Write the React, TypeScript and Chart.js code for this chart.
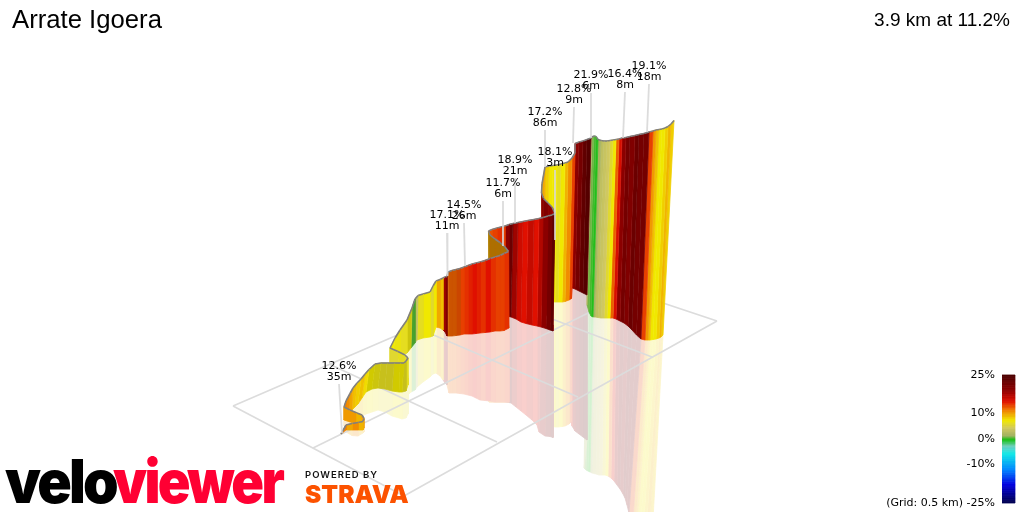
import React, { useEffect, useRef } from 'react';
import { Chart, registerables, ChartConfiguration } from 'chart.js';

Chart.register(...registerables);

// Ribbon columns in screen units, in route order.
// Lines within each array: start curl / first climb / long wall / inner curl / red wall / inner curl / yellow wall / dark wall / last wall
const ribbonTopX = [
  341, 346, 352, 358, 363, 364, 362, 357, 350, 344,
  346, 350, 353, 357, 361, 365, 369, 375, 381, 387, 394, 400, 404, 406, 408, 405, 398, 390,
  395, 400, 407, 412, 415, 418, 423, 430, 433, 436, 440, 443, 445, 447, 448, 452, 456, 460, 464, 468, 472, 476, 480, 485, 490, 495, 500, 504, 508.5,
  505, 500, 495, 490, 488.5,
  492, 497, 501, 505, 509, 513, 518, 523, 528, 534, 539, 543, 548, 552, 555,
  552, 548, 543.5, 541.5,
  542, 545, 549, 553, 557, 561, 565, 568, 572, 575,
  575, 579, 583, 587, 591,
  592, 594, 596, 598, 601, 604, 607, 610, 613, 616, 619, 622, 626, 630, 635, 639, 644, 649, 653, 656, 659, 662, 665, 668, 671, 674,
];
const ribbonTopY = [
  434, 425, 423.5, 422.5, 421.5, 418.5, 415, 413, 410, 407,
  401, 393.5, 388, 383, 379, 374, 369.5, 364, 363, 363, 363, 363, 363, 361, 358, 355, 351.5, 348,
  338, 330, 320, 308, 299, 295.5, 294, 292, 286, 281, 279.5, 278, 277, 276.5, 272, 270.5, 269.5, 268.5, 267, 265.5, 264, 263, 262, 260.5, 258.5, 257, 255.5, 253.5, 251.5,
  247, 242.5, 239, 235, 231,
  229.5, 228, 227, 226, 224.5, 223.5, 222.5, 221.5, 220.5, 219.5, 218.5, 217.5, 216, 215, 213.5,
  207, 203, 198.5, 193,
  184, 167, 166, 165.5, 165, 164, 163, 162, 158, 153,
  143.5, 142, 141, 139.5, 138,
  137, 136, 136.5, 139.5, 140.5, 141, 141, 140.5, 140, 139.5, 139, 138, 137.5, 136.5, 135.5, 134.5, 133.5, 132, 131, 130, 129.5, 129, 128, 126.5, 124, 120.5,
];
const ribbonBaseX = [
  341, 346, 352, 358, 363, 364, 363, 357, 350, 344,
  346, 349, 352, 355, 358, 362, 366, 372, 378, 385, 392, 399, 402, 406, 408, 408, 400, 390,
  392, 400, 407, 411, 415, 417, 423, 430, 433, 436, 440, 443, 445, 447, 449, 452, 456, 460, 464, 468, 472, 476, 480, 485, 490, 495, 500, 504, 509,
  508, 502, 496, 491, 489,
  492, 497, 501, 505, 509, 511, 516, 521, 526, 532, 537, 541, 546, 550, 553,
  553, 549, 545, 542,
  543, 544, 547, 551, 555, 558, 562, 565, 569, 571.5,
  572, 575, 579, 583, 587,
  587, 589, 591, 593, 595, 598, 601, 604, 607, 610, 613, 616, 620, 624, 628, 632, 636.5, 641, 645, 648, 650, 653, 656, 659, 661, 663,
];
const ribbonBaseY = [
  434, 430, 430, 430, 430, 428, 426, 424, 422, 420,
  415, 413, 410, 407, 404, 398, 392, 389, 388, 389, 391, 392, 392, 391, 385, 378, 372, 365,
  362, 358, 353, 348, 343, 340, 338, 337, 336, 327, 328, 330, 332, 336, 336, 336, 335.5, 335, 334, 334, 334, 333.5, 333, 332.5, 332, 331, 331, 330.5, 328,
  320, 318, 316, 314, 312,
  312, 314, 315, 316, 316.5, 317, 319, 322, 323.5, 325, 326, 327, 328.5, 330, 331,
  325, 320, 312, 305,
  300, 300, 301, 301.5, 302, 302, 302, 301.5, 300, 298.5,
  288, 289, 291, 293, 295,
  305, 312, 316, 317, 317, 317.5, 318, 318, 318, 318, 318, 319, 321, 323, 326, 330, 335, 339, 340, 340, 340, 339.5, 339, 338, 337, 335,
];
const mirrorEndX = [
  341, 346, 352, 358, 363, 364, 363, 357, 350, 344,
  346, 349, 352, 355, 358, 362, 366, 372, 378, 385, 392, 399, 402, 406, 408, 408, 400, 390,
  392, 400, 407, 411, 415, 417, 423, 430, 433, 436, 440, 443, 445, 447, 449, 452, 456, 460, 464, 468, 472, 476, 480, 485, 490, 495, 500, 504, 509,
  508, 502, 496, 491, 489,
  492, 497, 501, 505, 509, 511, 516, 521, 526, 532, 537, 539, 545, 550, 553,
  553, 549, 545, 542,
  543, 544, 547, 551, 555, 558, 562, 565, 569, 571,
  572, 575, 579, 583, 587,
  584, 586, 588, 590, 592, 596, 599, 602, 605, 608, 611, 614, 617, 620, 623, 625, 627, 629, 633, 636, 638, 641, 644, 647, 650, 653,
];
const mirrorEndY = [
  434, 432, 435.5, 436, 433, 432, 428, 425, 425, 426,
  424, 422, 420, 418, 416, 416, 414, 412, 410, 412, 416, 418, 419, 418, 414, 408, 405, 400,
  400, 398, 396, 392, 390, 387, 382, 377, 374, 373, 376, 380, 383, 385, 393, 393, 393, 393.5, 394, 395, 396, 398, 400, 400.5, 401, 402, 402, 402, 402,
  402, 402, 402, 402, 402,
  402, 402, 402, 402, 402.5, 403, 407, 411, 415, 420, 425, 432, 436, 436.5, 437.5,
  425, 420, 410, 400,
  425, 425, 426, 426, 427, 427, 426.5, 426, 424, 422,
  426, 431, 434, 437, 440,
  468, 470, 471, 472, 473, 474, 475, 475, 475, 476, 478, 481, 485, 489, 494, 498, 505, 513, 520, 520, 520, 520, 520, 520, 520, 520,
];
// gradient % of each column
const ribbonGrade = [
  10, 11, 9.5, 10.5, 9, 10, 10, 9, 10, 10,
  11, 10.5, 9.5, 8.5, 8, 8.5, 7.5, 7, 6.5, 6, 6, 7, 7, 6, 6, 5.5, 6, 5.5,
  7, 6.5, 6, 6.5, 0.2, 3, 6, 7, 5.5, 7, 9.5, 8.5, 18, 20, 11.5, 12, 12, 12.5, 13, 13.5, 14, 14.5, 14, 13.5, 14.5, 13.5, 13, 13, 13.5,
  10, 10, 10, 10, 9,
  12.5, 13, 13.5, 13, 19, 22, 18, 15.5, 14.5, 16, 14.5, 17, 19, 21, 23,
  18, 19, 20, 19,
  9, 9.5, 8, 7, 7, 6, 7, 9, 10.5, 13,
  15, 19, 21, 23, 24,
  2, 0.5, 0, -0.3, 1.5, 3, 3.5, 4, 5.5, 7, 12, 15, 19, 21, 20, 22, 21, 21, 13, 10, 8.5, 7, 7, 8, 9, 8,
];
// columns of the ribbon's inner face, seen from behind
const innerFaceColumns = [57, 58, 59, 60, 61];
// columns turned away from the light
const dimColumns = [17, 18, 19, 20, 21, 22, 23, 31, 32, 42, 43, 44, 45];

// Colour scale of the gradient legend
const scaleGrades = [-25, -18, -12.5, -6, -3, -0.5, 1, 4, 7, 11, 14.5, 19, 25];
const scaleColors = ['#000050', '#0000e0', '#0080ff', '#10e8e8', '#70d0c0', '#10c010', '#a0b060', '#d0c860', '#f0e800', '#f08000', '#e01000', '#8b0000', '#4a0000'];
const legendTicks = [25, 10, 0, -10, -25];

// Ground grid
const gridStartX = [233, 313, 404, 233, 329, 415, 489, 555];
const gridStartY = [406, 448, 496, 406, 364, 327, 295, 267];
const gridEndX = [555, 631, 717, 404, 497, 578, 652, 717];
const gridEndY = [267, 292, 321, 496, 442, 397, 357, 321];

// Climb annotations
const climbGrades = ['12.6%', '17.1%', '14.5%', '11.7%', '18.9%', '18.1%', '17.2%', '12.8%', '21.9%', '16.4%', '19.1%'];
const climbLengths = ['35m', '11m', '26m', '6m', '21m', '3m', '86m', '9m', '6m', '8m', '18m'];
const climbLabelX = [339, 447, 464, 503, 515, 555, 545, 574, 591, 625, 649];
const climbLabelY = [366, 215, 205, 183, 160, 152, 112, 89, 75, 74, 66];
const leaderBottomX = [342, 447.5, 465, 503, 515, 555, 545, 573, 591, 623, 647];
const leaderBottomY = [433, 276, 266, 246, 223, 240, 167, 143, 138, 138, 132];

const mix = (a: number, b: number, t: number) => Math.round(a + (b - a) * t);
const hexRgb = (hex: string) => [1, 3, 5].map((i) => parseInt(hex.slice(i, i + 2), 16));

function gradeRgb(grade: number) {
  let i = 0;
  while (i < scaleGrades.length - 2 && grade > scaleGrades[i + 1]) i++;
  const t = Math.min(1, Math.max(0, (grade - scaleGrades[i]) / (scaleGrades[i + 1] - scaleGrades[i])));
  const a = hexRgb(scaleColors[i]);
  const b = hexRgb(scaleColors[i + 1]);
  return [mix(a[0], b[0], t), mix(a[1], b[1], t), mix(a[2], b[2], t)];
}

const css = (rgb: number[]) => `rgb(${rgb[0]},${rgb[1]},${rgb[2]})`;
const polygon = (data: { x: number; y: number }[], color: string, yAxisID = 'y') => ({
  data,
  yAxisID,
  showLine: true,
  pointRadius: 0,
  fill: 'shape',
  tension: 0,
  backgroundColor: color,
  borderColor: color,
  borderWidth: 0.8,
});
const stroke = (data: { x: number; y: number }[], color: string, borderWidth: number) => ({
  data,
  showLine: true,
  pointRadius: 0,
  fill: false,
  tension: 0,
  borderColor: color,
  borderWidth,
});

// Chart.js paints the first dataset last, so the list runs from front to back
function buildDatasets() {
  const sets: any[] = [];
  climbLabelX.forEach((x, i) => {
    sets.push(stroke([{ x, y: climbLabelY[i] + 18 }, { x: leaderBottomX[i], y: leaderBottomY[i] }], 'rgba(216,216,216,0.9)', 1.8));
  });
  for (let g = -25; g < 25; g += 0.5) {
    sets.push(polygon([
      { x: 1002, y: g }, { x: 1015, y: g }, { x: 1015, y: g + 0.5 }, { x: 1002, y: g + 0.5 },
    ], css(gradeRgb(g + 0.25)), 'grade'));
  }
  for (let i = 0; i < ribbonTopX.length - 1; i++) {
    const rgb = gradeRgb(ribbonGrade[i + 1]);
    const light = innerFaceColumns.includes(i + 1) ? 0.72 : dimColumns.includes(i + 1) ? 0.87 : 1;
    sets.push(stroke([{ x: ribbonTopX[i], y: ribbonTopY[i] }, { x: ribbonTopX[i + 1], y: ribbonTopY[i + 1] }], '#808080', 1.6));
    sets.push(polygon([
      { x: ribbonTopX[i], y: ribbonTopY[i] },
      { x: ribbonTopX[i + 1], y: ribbonTopY[i + 1] },
      { x: ribbonBaseX[i + 1], y: ribbonBaseY[i + 1] },
      { x: ribbonBaseX[i], y: ribbonBaseY[i] },
    ], css(rgb.map((c) => Math.round(c * light)))));
  }
  gridStartX.forEach((x, i) => {
    sets.push(stroke([{ x, y: gridStartY[i] }, { x: gridEndX[i], y: gridEndY[i] }], '#dcdcdc', 1.6));
  });
  for (let i = 0; i < ribbonTopX.length - 1; i++) {
    const pale = gradeRgb(ribbonGrade[i + 1]).map((c) => mix(255, c, 0.2));
    sets.push(polygon([
      { x: ribbonBaseX[i], y: ribbonBaseY[i] },
      { x: ribbonBaseX[i + 1], y: ribbonBaseY[i + 1] },
      { x: mirrorEndX[i + 1], y: mirrorEndY[i + 1] },
      { x: mirrorEndX[i], y: mirrorEndY[i] },
    ], css(pale)));
  }
  return sets;
}

const textPlugin = {
  id: 'sceneText',
  afterDraw(chart: any) {
    const { ctx, scales } = chart;
    const put = (text: string, x: number, y: number, font: string, color = '#000', align: CanvasTextAlign = 'left') => {
      ctx.font = font;
      ctx.fillStyle = color;
      ctx.textAlign = align;
      ctx.fillText(text, x, y);
    };
    // the wordmark is wider and tighter than any installed font
    const squeezed = (text: string, x: number, y: number, widthScale: number, color: string) => {
      ctx.save();
      ctx.translate(x, y);
      ctx.scale(widthScale, 1);
      put(text, 0, 0, '900 60px Inter', color);
      ctx.restore();
    };
    ctx.save();
    ctx.textBaseline = 'alphabetic';
    const sx = (v: number) => scales.x.getPixelForValue(v);
    const sy = (v: number) => scales.y.getPixelForValue(v);

    put('Arrate Igoera', sx(12), sy(28), '25.7px "Liberation Sans"');
    put('3.9 km at 11.2%', sx(1010), sy(26), '19px "Liberation Sans"', '#000', 'right');

    ctx.textBaseline = 'middle';
    climbGrades.forEach((g, i) => {
      put(g, sx(climbLabelX[i]), sy(climbLabelY[i]), '11px "DejaVu Sans"', '#000', 'center');
      put(climbLengths[i], sx(climbLabelX[i]), sy(climbLabelY[i] + 11), '11px "DejaVu Sans"', '#000', 'center');
    });
    legendTicks.forEach((t) => {
      const label = t === -25 ? `(Grid: 0.5 km) ${t}%` : `${t}%`;
      put(label, sx(995), scales.grade.getPixelForValue(t), '11px "DejaVu Sans"', '#000', 'right');
    });

    ctx.textBaseline = 'alphabetic';
    ctx.letterSpacing = '-3px';
    squeezed('velo', sx(5), sy(503), 0.95, '#000');
    squeezed('viewer', sx(113), sy(503), 0.9, '#ff0033');
    ctx.letterSpacing = '1px';
    put('POWERED BY', sx(305), sy(478), '600 9.5px Inter', '#111');
    ctx.letterSpacing = '0px';
    put('STRAVA', sx(305), sy(503), '900 24.5px Inter', '#fc5200');
    ctx.restore();
  },
};

export default function App() {
  const canvasRef = useRef<HTMLCanvasElement>(null);

  useEffect(() => {
    if (!canvasRef.current) return;
    document.body.style.margin = '0';
    const config: ChartConfiguration = {
      type: 'scatter',
      data: { datasets: buildDatasets() },
      options: {
        responsive: false,
        animation: false,
        events: [],
        plugins: { legend: { display: false }, tooltip: { enabled: false }, title: { display: false } },
        scales: {
          x: { type: 'linear', min: 0, max: 1024, display: false },
          y: { type: 'linear', min: 0, max: 512, reverse: true, display: false },
          // legend bar: 25% sits at 375 and -25% at 503 on the page
          grade: { type: 'linear', min: -28.52, max: 171.48, display: false },
        },
      } as any,
      plugins: [textPlugin],
    };
    const chart = new Chart(canvasRef.current, config);
    return () => chart.destroy();
  }, []);

  return <canvas ref={canvasRef} width={1024} height={512} style={{ display: 'block' }} />;
}
